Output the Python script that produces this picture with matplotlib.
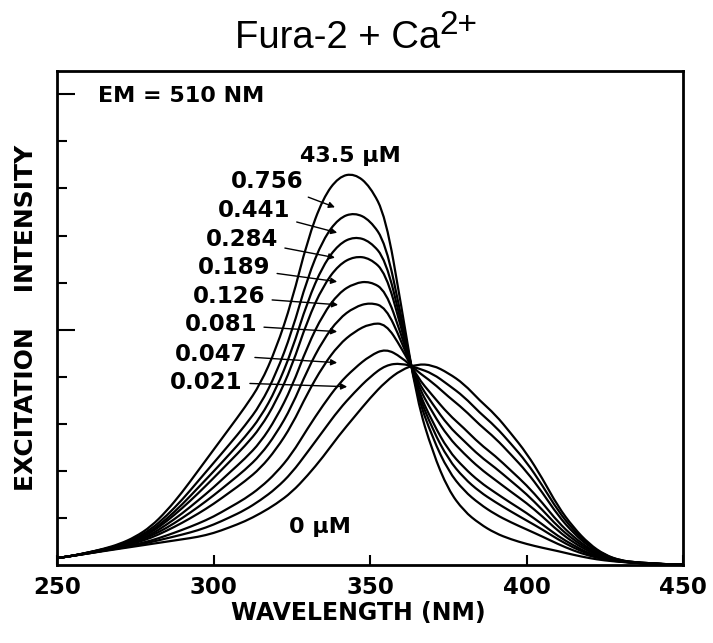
import matplotlib
matplotlib.use("Agg")
import matplotlib.pyplot as plt
from matplotlib.path import Path
from matplotlib.patches import PathPatch

plt.rcParams['font.family'] = ['DejaVu Sans']

# wavelength grid (nm), every 5 nm
wavelength = [250, 255, 260, 265, 270, 275, 280, 285, 290, 295,
              300, 305, 310, 315, 320, 325, 330, 335, 340, 345,
              350, 355, 360, 365, 370, 375, 380, 385, 390, 395,
              400, 405, 410, 415, 420, 425, 430, 435, 440, 445, 450]

# excitation intensity, one list per [Ca2+]
ca_43_5 = [0.15, 0.2, 0.27, 0.35, 0.45, 0.6, 0.82, 1.15, 1.55, 2.0,
           2.45, 2.9, 3.35, 3.85, 4.6, 5.6, 6.9, 7.8, 8.25, 8.32,
           8.05, 7.4, 5.5, 3.5, 2.4, 1.6, 1.15, 0.88, 0.68, 0.55,
           0.45, 0.37, 0.3, 0.22, 0.15, 0.1, 0.07, 0.05, 0.03, 0.02, 0.01]
ca_0_756 = [0.15, 0.2, 0.27, 0.34, 0.43, 0.57, 0.76, 1.05, 1.39, 1.78,
            2.17, 2.56, 2.96, 3.41, 4.07, 4.95, 6.10, 6.92, 7.37, 7.49,
            7.33, 6.84, 5.28, 3.62, 2.70, 2.00, 1.58, 1.30, 1.08, 0.91,
            0.76, 0.61, 0.45, 0.31, 0.20, 0.12, 0.07, 0.05, 0.03, 0.02, 0.01]
ca_0_441 = [0.15, 0.2, 0.27, 0.34, 0.42, 0.55, 0.72, 0.98, 1.29, 1.64,
            1.99, 2.35, 2.72, 3.14, 3.74, 4.55, 5.60, 6.37, 6.82, 6.98,
            6.88, 6.49, 5.15, 3.70, 2.88, 2.25, 1.85, 1.56, 1.34, 1.14,
            0.95, 0.76, 0.55, 0.37, 0.23, 0.13, 0.08, 0.05, 0.03, 0.02, 0.01]
ca_0_284 = [0.15, 0.2, 0.26, 0.33, 0.42, 0.53, 0.69, 0.93, 1.21, 1.52,
            1.85, 2.19, 2.53, 2.92, 3.48, 4.22, 5.20, 5.93, 6.38, 6.56,
            6.52, 6.21, 5.04, 3.76, 3.03, 2.44, 2.07, 1.77, 1.54, 1.32,
            1.11, 0.87, 0.62, 0.42, 0.25, 0.14, 0.08, 0.05, 0.03, 0.02, 0.01]
ca_0_189 = [0.15, 0.2, 0.26, 0.33, 0.41, 0.51, 0.65, 0.86, 1.10, 1.37,
            1.65, 1.96, 2.26, 2.61, 3.12, 3.78, 4.65, 5.33, 5.78, 5.99,
            6.03, 5.83, 4.89, 3.85, 3.23, 2.72, 2.37, 2.06, 1.81, 1.56,
            1.32, 1.04, 0.73, 0.48, 0.29, 0.15, 0.08, 0.05, 0.03, 0.02, 0.01]
ca_0_126 = [0.15, 0.2, 0.26, 0.32, 0.40, 0.49, 0.62, 0.79, 1.00, 1.23,
            1.48, 1.75, 2.02, 2.34, 2.79, 3.37, 4.15, 4.78, 5.23, 5.48,
            5.58, 5.48, 4.76, 3.92, 3.42, 2.96, 2.64, 2.32, 2.07, 1.79,
            1.51, 1.18, 0.82, 0.54, 0.32, 0.17, 0.09, 0.05, 0.03, 0.02, 0.01]
ca_0_081 = [0.15, 0.2, 0.26, 0.32, 0.39, 0.47, 0.58, 0.73, 0.90, 1.09,
            1.30, 1.54, 1.78, 2.06, 2.46, 2.97, 3.65, 4.23, 4.68, 4.96,
            5.13, 5.13, 4.62, 4.00, 3.60, 3.21, 2.91, 2.58, 2.32, 2.01,
            1.70, 1.33, 0.92, 0.60, 0.35, 0.18, 0.09, 0.05, 0.03, 0.02, 0.01]
ca_0_047 = [0.15, 0.2, 0.25, 0.31, 0.37, 0.44, 0.52, 0.63, 0.75, 0.88,
            1.03, 1.22, 1.41, 1.65, 1.96, 2.36, 2.90, 3.40, 3.85, 4.18,
            4.45, 4.60, 4.42, 4.12, 3.88, 3.58, 3.31, 2.98, 2.70, 2.35,
            1.99, 1.55, 1.06, 0.68, 0.39, 0.20, 0.09, 0.06, 0.04, 0.02, 0.01]
ca_0_021 = [0.15, 0.2, 0.25, 0.31, 0.36, 0.42, 0.49, 0.57, 0.65, 0.74,
            0.86, 1.01, 1.17, 1.38, 1.63, 1.96, 2.40, 2.85, 3.30, 3.67,
            4.00, 4.25, 4.29, 4.19, 4.07, 3.83, 3.58, 3.24, 2.95, 2.58,
            2.19, 1.70, 1.16, 0.74, 0.42, 0.21, 0.10, 0.06, 0.04, 0.02, 0.01]
ca_0 = [0.15, 0.2, 0.25, 0.3, 0.35, 0.4, 0.45, 0.5, 0.55, 0.6,
        0.68, 0.8, 0.93, 1.1, 1.3, 1.55, 1.9, 2.3, 2.75, 3.15,
        3.55, 3.9, 4.15, 4.27, 4.25, 4.08, 3.85, 3.5, 3.2, 2.8,
        2.38, 1.85, 1.25, 0.8, 0.45, 0.22, 0.1, 0.06, 0.04, 0.02, 0.01]

curves = [ca_43_5, ca_0_756, ca_0_441, ca_0_284, ca_0_189,
          ca_0_126, ca_0_081, ca_0_047, ca_0_021, ca_0]

# arrow labels: text, text anchor (right end) and arrow tip
arrow_labels = ['0.756', '0.441', '0.284', '0.189', '0.126', '0.081', '0.047', '0.021']
label_pos = [(328.6, 8.15), (324.4, 7.53), (320.6, 6.91), (318.1, 6.32),
             (316.5, 5.70), (313.9, 5.11), (311.0, 4.47), (309.4, 3.89)]
arrow_tip = [(338.8, 7.6), (339.5, 7.06), (338.8, 6.53), (339.5, 6.02),
             (339.8, 5.53), (339.5, 4.96), (339.5, 4.30), (342.7, 3.79)]


def smooth_path(xs, ys):
    # quadratic bezier through the midpoints, data points as control points
    pts = list(zip(xs, ys))
    verts = [pts[0]]
    codes = [Path.MOVETO]
    mid = lambda a, b: ((a[0] + b[0]) / 2, (a[1] + b[1]) / 2)
    verts.append(mid(pts[0], pts[1]))
    codes.append(Path.LINETO)
    for i in range(1, len(pts) - 1):
        verts += [pts[i], mid(pts[i], pts[i + 1])]
        codes += [Path.CURVE3, Path.CURVE3]
    verts.append(pts[-1])
    codes.append(Path.LINETO)
    return Path(verts, codes)


fig = plt.figure(figsize=(7.13, 6.43), dpi=100)
ax = fig.add_axes([0.080, 0.121, 0.878, 0.769])

for c in curves:
    ax.add_patch(PathPatch(smooth_path(wavelength, c), fill=False,
                           edgecolor='black', lw=1.6))

for lab, pos, tip in zip(arrow_labels, label_pos, arrow_tip):
    ax.annotate(lab, xy=tip, xytext=pos, ha='right', va='center',
                fontsize=16.5, fontweight='bold',
                arrowprops=dict(arrowstyle='-|>', color='black', lw=1,
                                mutation_scale=9, shrinkA=3, shrinkB=0))

ax.text(343.6, 8.68, '43.5 µM', ha='center', va='center', fontsize=16, fontweight='bold')
ax.text(334.0, 0.81, '0 µM', ha='center', va='center', fontsize=16, fontweight='bold')
ax.text(263.1, 9.96, 'EM = 510 NM', ha='left', va='center', fontsize=16, fontweight='bold')

ax.set_xlim(250, 450)
ax.set_ylim(0, 10.5)
ax.set_xticks([250, 300, 350, 400, 450])
ax.set_yticks([5, 10])
ax.set_yticks([1, 2, 3, 4, 6, 7, 8, 9], minor=True)
ax.set_yticklabels([])
ax.tick_params(axis='x', direction='in', length=7, width=1.5, pad=8,
               labelsize=16.5)
ax.tick_params(axis='y', which='major', direction='in', length=13, width=1.5)
ax.tick_params(axis='y', which='minor', direction='in', length=7, width=1.5)
for lab in ax.get_xticklabels():
    lab.set_fontweight('bold')
for s in ax.spines.values():
    s.set_linewidth(2)

ax.set_xlabel('WAVELENGTH (NM)', fontsize=17, fontweight='bold')
ax.xaxis.set_label_coords(0.482, -0.073)
ax.set_ylabel('EXCITATION    INTENSITY', fontsize=18, fontweight='bold', labelpad=10)

title = fig.text(0.473, 0.941, 'Fura-2 + Ca', ha='center', va='center',
                 fontsize=27.5, family='Liberation Sans')
ax.annotate('2+', xy=(1.0, 0.61), xycoords=title, ha='left', va='baseline',
            fontsize=24, family='Liberation Sans', annotation_clip=False)

fig.savefig('out.png', dpi=100)
